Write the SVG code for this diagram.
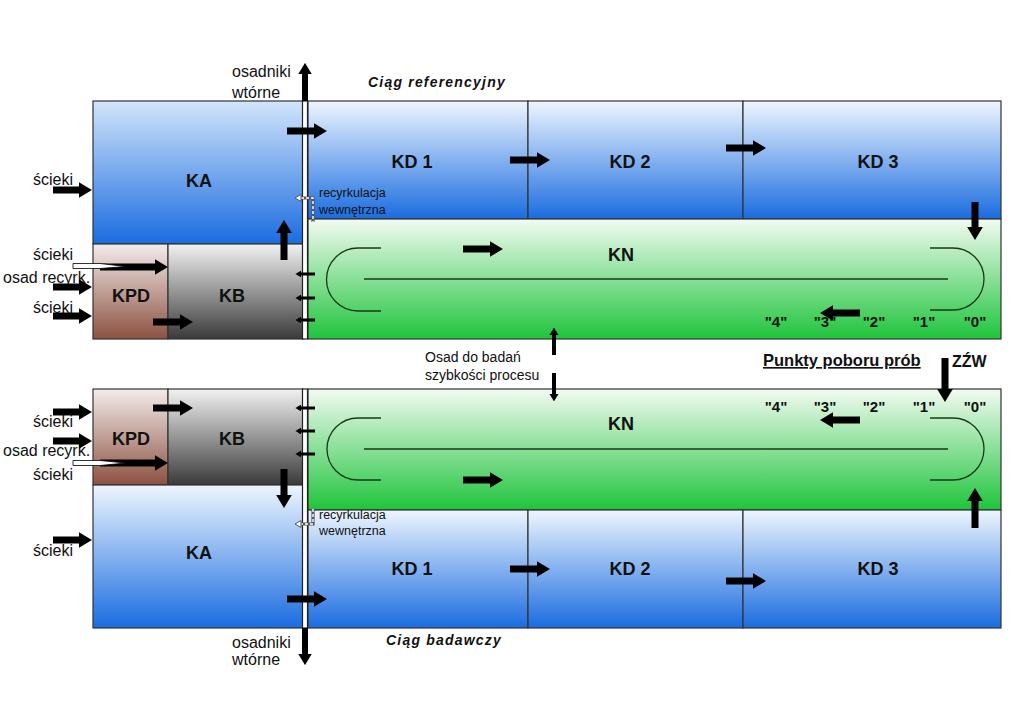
<svg xmlns="http://www.w3.org/2000/svg" width="1024" height="724" viewBox="0 0 1024 724">
<style>
text{font-family:"Liberation Sans",Arial,sans-serif;fill:#111}
.lbl{font-size:18px;font-weight:bold;text-anchor:middle}
.t{font-size:16px}
.s{font-size:12.5px}
.m{font-size:14px}
.pt{font-size:15px;font-weight:bold;text-anchor:middle}
.ti{font-size:14px;font-weight:bold;font-style:italic;letter-spacing:1.2px}
.box{stroke:#333;stroke-width:1.2}
.arr{stroke:#000;fill:none;marker-end:url(#ah)}
.w7{stroke-width:7}
.w6{stroke-width:6}
.w4{stroke-width:4}
.w3{stroke-width:3}
.trk{fill:none;stroke:#1a3a1a;stroke-width:1.3}
</style>
<defs>
<marker id="ah" viewBox="0 0 19 23" refX="0.5" refY="11.5" markerWidth="1.9" markerHeight="2.3" markerUnits="strokeWidth" orient="auto">
<path d="M0,0 L19,11.5 L0,23 z" fill="#000"/>
</marker>
<linearGradient id="blue" x1="0" y1="0" x2="0" y2="1"><stop offset="0" stop-color="#eef6fe"/><stop offset="1" stop-color="#1a6ce0"/></linearGradient>
<linearGradient id="blueTop" x1="0" y1="0" x2="0" y2="1"><stop offset="0" stop-color="#d2e5fb"/><stop offset="1" stop-color="#1a6ce0"/></linearGradient>
<linearGradient id="green" x1="0" y1="0" x2="0" y2="1"><stop offset="0" stop-color="#f2fbf2"/><stop offset="1" stop-color="#1fc43c"/></linearGradient>
<linearGradient id="brown" x1="0" y1="0" x2="0" y2="1"><stop offset="0" stop-color="#f4eceb"/><stop offset="1" stop-color="#8c5141"/></linearGradient>
<linearGradient id="gray" x1="0" y1="0" x2="0" y2="1"><stop offset="0" stop-color="#f2f2f2"/><stop offset="1" stop-color="#3a3a3a"/></linearGradient>
</defs>
<rect width="1024" height="724" fill="#fff"/>

<!-- TOP: Ciąg referencyjny -->
<g id="top-KA"><rect class="box" x="93" y="101" width="210" height="143" fill="url(#blueTop)"/><text class="lbl" x="199" y="187">KA</text></g>
<g id="top-KD1"><rect class="box" x="308" y="101" width="220" height="118" fill="url(#blue)"/><text class="lbl" x="412" y="168">KD 1</text></g>
<g id="top-KD2"><rect class="box" x="528" y="101" width="215" height="118" fill="url(#blue)"/><text class="lbl" x="630" y="168">KD 2</text></g>
<g id="top-KD3"><rect class="box" x="743" y="101" width="258" height="118" fill="url(#blue)"/><text class="lbl" x="878" y="168">KD 3</text></g>
<g id="top-KN"><rect class="box" x="308" y="219" width="693" height="120" fill="url(#green)"/><text class="lbl" x="621" y="261">KN</text>
<path class="trk" d="M381,248 H358 A31.5,31.5 0 0 0 358,311 H381"/>
<path class="trk" d="M930,248 H953 A31,31 0 0 1 953,310 H930"/>
<line class="trk" x1="364" y1="279" x2="948" y2="279"/>
<text class="pt" x="776" y="327">"4"</text><text class="pt" x="825" y="327">"3"</text><text class="pt" x="874" y="327">"2"</text><text class="pt" x="924" y="327">"1"</text><text class="pt" x="975" y="327">"0"</text>
</g>
<g id="top-KPD"><rect class="box" x="93" y="244" width="75" height="95" fill="url(#brown)"/><text class="lbl" x="131" y="302">KPD</text></g>
<g id="top-KB"><rect class="box" x="168" y="244" width="135" height="95" fill="url(#gray)"/><text class="lbl" x="232" y="302">KB</text></g>
<g id="top-channel"><rect x="302.5" y="101" width="5" height="238" fill="#fff" stroke="#222" stroke-width="1.2"/></g>

<!-- BOTTOM: Ciąg badawczy -->
<g id="bot-KPD"><rect class="box" x="93" y="389" width="75" height="96" fill="url(#brown)"/><text class="lbl" x="131" y="445">KPD</text></g>
<g id="bot-KB"><rect class="box" x="168" y="389" width="135" height="96" fill="url(#gray)"/><text class="lbl" x="232" y="445">KB</text></g>
<g id="bot-KA"><rect class="box" x="93" y="485" width="210" height="143" fill="url(#blue)"/><text class="lbl" x="199" y="559">KA</text></g>
<g id="bot-KN"><rect class="box" x="308" y="389" width="693" height="121" fill="url(#green)"/><text class="lbl" x="621" y="430">KN</text>
<path class="trk" d="M381,418 H358 A31,31 0 0 0 358,480 H381"/>
<path class="trk" d="M930,418 H953 A31,31 0 0 1 953,480 H930"/>
<line class="trk" x1="364" y1="449" x2="948" y2="449"/>
<text class="pt" x="776" y="412">"4"</text><text class="pt" x="825" y="412">"3"</text><text class="pt" x="874" y="412">"2"</text><text class="pt" x="924" y="412">"1"</text><text class="pt" x="975" y="412">"0"</text>
</g>
<g id="bot-KD1"><rect class="box" x="308" y="510" width="220" height="118" fill="url(#blue)"/><text class="lbl" x="412" y="575">KD 1</text></g>
<g id="bot-KD2"><rect class="box" x="528" y="510" width="215" height="118" fill="url(#blue)"/><text class="lbl" x="630" y="575">KD 2</text></g>
<g id="bot-KD3"><rect class="box" x="743" y="510" width="258" height="118" fill="url(#blue)"/><text class="lbl" x="878" y="575">KD 3</text></g>
<g id="bot-channel"><rect x="302.5" y="389" width="5" height="239" fill="#fff" stroke="#222" stroke-width="1.2"/></g>

<!-- labels -->
<g id="labels">
<text class="t" x="232" y="77">osadniki</text>
<text class="t" x="232" y="98">wtórne</text>
<text class="ti" x="368" y="87">Ciąg referencyjny</text>
<text class="t" x="33" y="185">ścieki</text>
<text class="t" x="33" y="260">ścieki</text>
<text class="t" x="3" y="283">osad recyrk.</text>
<text class="t" x="33" y="313">ścieki</text>
<text class="s" x="319" y="197">recyrkulacja</text>
<text class="s" x="319" y="214">wewnętrzna</text>
<text class="m" x="425" y="362">Osad do badań</text>
<text class="m" x="425" y="380">szybkości procesu</text>
<text x="763" y="366" style="font-size:16.5px;font-weight:bold;text-decoration:underline">Punkty poboru prób</text>
<text x="952" y="367" style="font-size:16px;font-weight:bold">ZŹW</text>
<text class="t" x="33" y="427">ścieki</text>
<text class="t" x="3" y="456">osad recyrk.</text>
<text class="t" x="33" y="480">ścieki</text>
<text class="t" x="33" y="556">ścieki</text>
<text class="s" x="319" y="519">recyrkulacja</text>
<text class="s" x="319" y="535">wewnętrzna</text>
<text class="ti" x="386" y="645">Ciąg badawczy</text>
<text class="t" x="232" y="648">osadniki</text>
<text class="t" x="232" y="665">wtórne</text>
</g>

<!-- connectors -->
<g id="connectors">
<line class="arr w7" x1="53" y1="190" x2="79" y2="190"/>
<line class="arr w7" x1="53" y1="287" x2="79" y2="287"/>
<line class="arr w7" x1="53" y1="316" x2="79" y2="316"/>
<line class="arr w7" x1="100" y1="267" x2="155" y2="267"/>
<polygon points="73,263.5 100,263.5 126,266.5 100,268.5 73,268.5" fill="#fff" stroke="#000" stroke-width="0.8"/>
<line class="arr w7" x1="153" y1="322" x2="180" y2="322"/>
<line class="arr w7" x1="284" y1="260" x2="284" y2="233"/>
<line class="arr w7" x1="287" y1="131" x2="314" y2="131"/>
<line class="arr w7" x1="510" y1="160" x2="537" y2="160"/>
<line class="arr w7" x1="726" y1="148" x2="753" y2="148"/>
<line class="arr w7" x1="975" y1="202" x2="975" y2="227"/>
<line class="arr w7" x1="463" y1="249" x2="490" y2="249"/>
<line class="arr w7" x1="860" y1="313" x2="833" y2="313"/>
<line class="arr w6" x1="305" y1="101" x2="305" y2="74"/>
<line class="arr w3" x1="315" y1="274" x2="301" y2="274"/>
<line class="arr w3" x1="315" y1="298" x2="301" y2="298"/>
<line class="arr w3" x1="315" y1="320" x2="301" y2="320"/>
<path d="M301,198 H313 V222" fill="none" stroke="#556" stroke-width="3.2"/>
<path d="M301,198 H313 V222" fill="none" stroke="#fff" stroke-width="1.4" stroke-dasharray="3,2"/>
<path d="M295,198 L301,194.5 L301,201.5 z" fill="#fff" stroke="#556" stroke-width="1"/>

<line class="arr w4" x1="554" y1="355" x2="554" y2="335"/>
<line class="arr w4" x1="554" y1="373" x2="554" y2="394"/>
<line class="arr w7" x1="945" y1="358" x2="945" y2="389"/>

<line class="arr w7" x1="53" y1="412" x2="79" y2="412"/>
<line class="arr w7" x1="53" y1="441" x2="79" y2="441"/>
<line class="arr w7" x1="100" y1="463" x2="155" y2="463"/>
<polygon points="73,460.5 100,460.5 126,463 100,465.5 73,465.5" fill="#fff" stroke="#000" stroke-width="0.8"/>
<line class="arr w7" x1="153" y1="408" x2="180" y2="408"/>
<line class="arr w7" x1="284" y1="469" x2="284" y2="495"/>
<line class="arr w7" x1="53" y1="540" x2="79" y2="540"/>
<line class="arr w7" x1="287" y1="599" x2="314" y2="599"/>
<line class="arr w7" x1="510" y1="569" x2="537" y2="569"/>
<line class="arr w7" x1="726" y1="581" x2="753" y2="581"/>
<line class="arr w7" x1="975" y1="528" x2="975" y2="501"/>
<line class="arr w7" x1="463" y1="480" x2="490" y2="480"/>
<line class="arr w7" x1="860" y1="420" x2="833" y2="420"/>
<line class="arr w6" x1="305" y1="628" x2="305" y2="654"/>
<line class="arr w3" x1="315" y1="408" x2="301" y2="408"/>
<line class="arr w3" x1="315" y1="431" x2="301" y2="431"/>
<line class="arr w3" x1="315" y1="454" x2="301" y2="454"/>
<path d="M313,509 V524 H301" fill="none" stroke="#556" stroke-width="3.2"/>
<path d="M313,509 V524 H301" fill="none" stroke="#fff" stroke-width="1.4" stroke-dasharray="3,2"/>
<path d="M295,524 L301,520.5 L301,527.5 z" fill="#fff" stroke="#556" stroke-width="1"/>
</g>
</svg>
